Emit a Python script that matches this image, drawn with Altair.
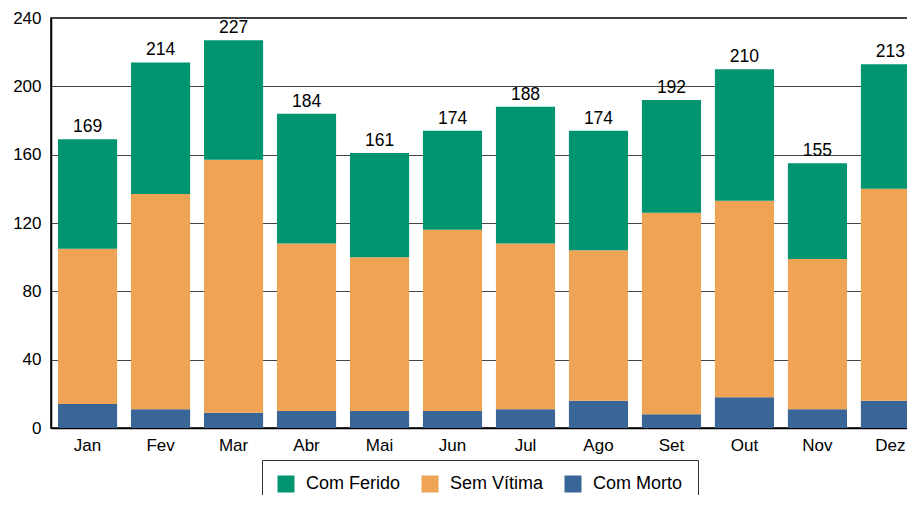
import altair as alt
import pandas as pd

meses = ["Jan", "Fev", "Mar", "Abr", "Mai", "Jun", "Jul", "Ago", "Set", "Out", "Nov", "Dez"]
com_morto = [14, 11, 9, 10, 10, 10, 11, 16, 8, 18, 11, 16]
sem_vitima = [91, 126, 148, 98, 90, 106, 97, 88, 118, 115, 88, 124]
com_ferido = [64, 77, 70, 76, 61, 58, 80, 70, 66, 77, 56, 73]
series = ["Com Ferido", "Sem Vítima", "Com Morto"]
cores = ["#009471", "#EFA354", "#3A6597"]
y_ticks = [0, 40, 80, 120, 160, 200, 240]

FONT = "Liberation Sans"

rows = []
for i, m in enumerate(meses):
    rows.append({"mes": m, "serie": "Com Morto", "valor": com_morto[i], "ordem": 0})
    rows.append({"mes": m, "serie": "Sem Vítima", "valor": sem_vitima[i], "ordem": 1})
    rows.append({"mes": m, "serie": "Com Ferido", "valor": com_ferido[i], "ordem": 2})
df = pd.DataFrame(rows)
tot = pd.DataFrame({
    "mes": meses,
    "total": [a + b + c for a, b, c in zip(com_morto, sem_vitima, com_ferido)],
})

x_enc = alt.X(
    "mes:N", sort=meses, title=None,
    scale=alt.Scale(paddingInner=0.19, paddingOuter=0.096),
    axis=alt.Axis(labelAngle=0, ticks=False, labelPadding=9, labelFontSize=17,
                  labelFont=FONT, labelColor="#000", domainColor="#000",
                  domainWidth=1.5, grid=False),
)

bars = alt.Chart(df).mark_bar().encode(
    x=x_enc,
    y=alt.Y(
        "valor:Q", stack="zero", title=None,
        scale=alt.Scale(domain=[0, 240], nice=False),
        axis=alt.Axis(values=y_ticks, ticks=False, labelPadding=10, labelFontSize=17,
                      labelFont=FONT, labelColor="#000", domainColor="#000",
                      domainWidth=1.5, gridColor="#444", gridWidth=1.2),
    ),
    color=alt.Color(
        "serie:N",
        scale=alt.Scale(domain=series, range=cores),
        legend=alt.Legend(
            title=None, orient="none", legendX=211, legendY=442,
            direction="horizontal", symbolType="square", symbolSize=289,
            symbolStrokeWidth=0, labelFontSize=18, labelFont=FONT,
            labelColor="#000", labelOffset=11, columnPadding=20, padding=15,
            strokeColor="#333", fillColor="white",
            labelExpr="datum.label == 'Com Morto' ? 'Com Morto\u2003' : datum.label",
        ),
    ),
    order=alt.Order("ordem:Q"),
)

text = alt.Chart(tot).mark_text(
    baseline="bottom", dy=-3, fontSize=17.5, font=FONT, color="#000"
).encode(
    x=alt.X("mes:N", sort=meses),
    y=alt.Y("total:Q"),
    text=alt.Text("total:Q"),
)

chart = alt.layer(bars, text).properties(
    width=876, height=410,
    autosize=alt.AutoSizeParams(type="none"),
    padding={"left": 43, "top": 10, "right": -20, "bottom": 67},
).configure_view(stroke="#000", strokeWidth=1.5)

chart.save("out.html", embed_options={"renderer": "svg", "actions": False})
